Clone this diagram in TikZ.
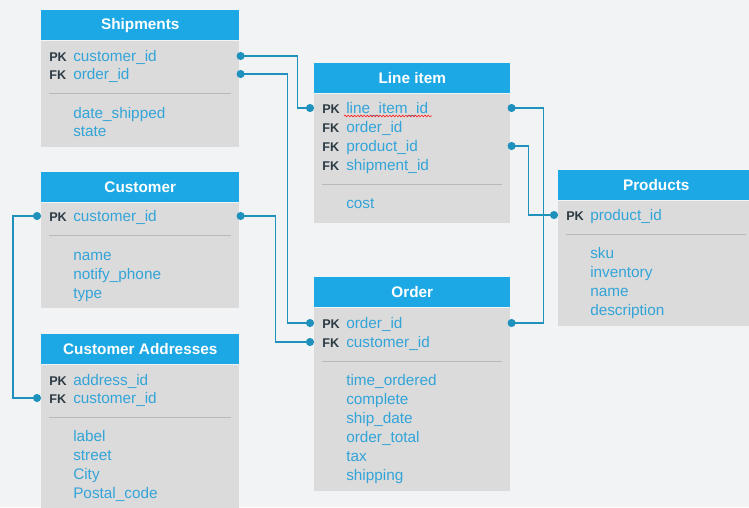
\documentclass[tikz,border=0pt]{standalone}
\usepackage{fontspec}
\setmainfont{Liberation Sans}
\setsansfont{Liberation Sans}
\usetikzlibrary{arrows.meta,calc,decorations.pathmorphing}
\definecolor{erdbg}{HTML}{F2F3F4}
\definecolor{erdblue}{HTML}{1BA8E4}
\definecolor{erdgray}{HTML}{DBDBDB}
\definecolor{erdtext}{HTML}{33A4D8}
\definecolor{erdkey}{HTML}{2C3A44}
\definecolor{erdlink}{HTML}{1E92BD}
\definecolor{erdsep}{HTML}{B9B9B9}
\newcommand{\keytag}[1]{\makebox[18pt][l]{\color{erdkey}\bfseries\fontsize{9.5}{11}\selectfont #1}}

\begin{document}
\begin{tikzpicture}[
      x=0.75pt, y=-0.75pt,
      font=\sffamily,
      hdr/.style={fill=erdblue, text=white, anchor=north west, inner sep=0pt,
                  minimum height=22.5pt, font=\sffamily\bfseries\fontsize{11.5}{13}\selectfont},
      tbody/.style={fill=erdgray, anchor=north west, inner sep=0pt},
      row/.style={anchor=west, inner xsep=6pt, inner ysep=0pt, align=left, text=erdtext,
                  text height=10pt, text depth=2.5pt, font=\sffamily\fontsize{11.5}{13}\selectfont},
      sepline/.style={draw=erdsep, line width=0.6pt},
      link/.style={draw=erdlink, line width=1.1pt, {Circle[length=6pt]}-{Circle[length=6pt]}}
    ]
    \useasboundingbox[fill=erdbg] (0,0) rectangle (749,507);

    % Shipments
    \node[hdr, minimum width=148.5pt] (ship) at (41,10) {Shipments};
    \node[tbody, minimum width=148.5pt, minimum height=79.5pt] (ship-body) at (ship.south west) {};
    \foreach \k/\f [count=\i] in {PK/customer\_id, FK/order\_id}
      \node[row, text width=136.5pt] (ship-k\i) at (41,{38+18*\i}) {\keytag{\k}\f};
    \foreach \f [count=\i] in {date\_shipped, state}
      \node[row, text width=136.5pt] (ship-f\i) at (41,{95+18*\i}) {\keytag{}\f};
    \draw[sepline] ($(ship-k2.west)!.5!(ship-f1.west)$) ++(8,0) -- ++(182,0);

    % Line item
    \node[hdr, minimum width=147pt] (line) at (314,63) {Line item};
    \node[tbody, minimum width=147pt, minimum height=96.75pt] (line-body) at (line.south west) {};
    \foreach \k/\f [count=\i] in {PK/line\_item\_id, FK/order\_id, FK/product\_id, FK/shipment\_id}
      \node[row, text width=135pt] (line-k\i) at (314,{89+19*\i}) {\keytag{\k}\f};
    \node[row, text width=135pt] (line-f1) at (314,203) {\keytag{}cost};
    \draw[sepline] ($(line-k4.west)!.5!(line-f1.west)$) ++(8,0) -- ++(180,0);
    \draw[red!85, line width=0.5pt, decorate, decoration={snake, amplitude=0.6pt, segment length=2.4pt}]
      ($(line-k1.west)+(30,8)$) -- ++(88,0);

    % Customer
    \node[hdr, minimum width=148.5pt] (cust) at (41,172) {Customer};
    \node[tbody, minimum width=148.5pt, minimum height=78.75pt] (cust-body) at (cust.south west) {};
    \node[row, text width=136.5pt] (cust-k1) at (41,216) {\keytag{PK}customer\_id};
    \foreach \f [count=\i] in {name, notify\_phone, type}
      \node[row, text width=136.5pt] (cust-f\i) at (41,{236+19*\i}) {\keytag{}\f};
    \draw[sepline] ($(cust-k1.west)!.5!(cust-f1.west)$) ++(8,0) -- ++(182,0);

    % Products
    \node[hdr, minimum width=147pt] (prod) at (558,170) {Products};
    \node[tbody, minimum width=147pt, minimum height=93.75pt] (prod-body) at (prod.south west) {};
    \node[row, text width=135pt] (prod-k1) at (558,215) {\keytag{PK}product\_id};
    \foreach \f [count=\i] in {sku, inventory, name, description}
      \node[row, text width=135pt] (prod-f\i) at (558,{234+19*\i}) {\keytag{}\f};
    \draw[sepline] ($(prod-k1.west)!.5!(prod-f1.west)$) ++(8,0) -- ++(180,0);

    % Order
    \node[hdr, minimum width=147pt] (order) at (314,277) {Order};
    \node[tbody, minimum width=147pt, minimum height=137.25pt] (order-body) at (order.south west) {};
    \foreach \k/\f [count=\i] in {PK/order\_id, FK/customer\_id}
      \node[row, text width=135pt] (order-k\i) at (314,{304+19*\i}) {\keytag{\k}\f};
    \foreach \f [count=\i] in {time\_ordered, complete, ship\_date, order\_total, tax, shipping}
      \node[row, text width=135pt] (order-f\i) at (314,{361+19*\i}) {\keytag{}\f};
    \draw[sepline] ($(order-k2.west)!.5!(order-f1.west)$) ++(8,0) -- ++(180,0);

    % Customer Addresses
    \node[hdr, minimum width=148.5pt] (addr) at (41,334) {Customer Addresses};
    \node[tbody, minimum width=148.5pt, minimum height=109.5pt] (addr-body) at (addr.south west) {};
    \foreach \k/\f [count=\i] in {PK/address\_id, FK/customer\_id}
      \node[row, text width=136.5pt] (addr-k\i) at (41,{362+18*\i}) {\keytag{\k}\f};
    \foreach \f [count=\i] in {label, street, City, Postal\_code}
      \node[row, text width=136.5pt] (addr-f\i) at (41,{417+19*\i}) {\keytag{}\f};
    \draw[sepline] ($(addr-k2.west)!.5!(addr-f1.west)$) ++(8,0) -- ++(182,0);

    % relations
    \draw[link] ([xshift=-2.2pt]ship-k1.east) -- ++(61,0) |- (line-k1.west);
    \draw[link] ([xshift=-2.2pt]ship-k2.east) -- ++(51,0) |- (order-k1.west);
    \draw[link] ([xshift=-2.2pt]cust-k1.east) -- ++(39,0) |- (order-k2.west);
    \draw[link] (cust-k1.west) -- ++(-28,0) |- (addr-k2.west);
    \draw[link] ([xshift=-2.2pt]line-k1.east) -- ++(36,0) |- ([xshift=-2.2pt]order-k1.east);
    \draw[link] ([xshift=-2.2pt]line-k3.east) -- ++(21,0) |- (prod-k1.west);
  \end{tikzpicture}
\end{document}
